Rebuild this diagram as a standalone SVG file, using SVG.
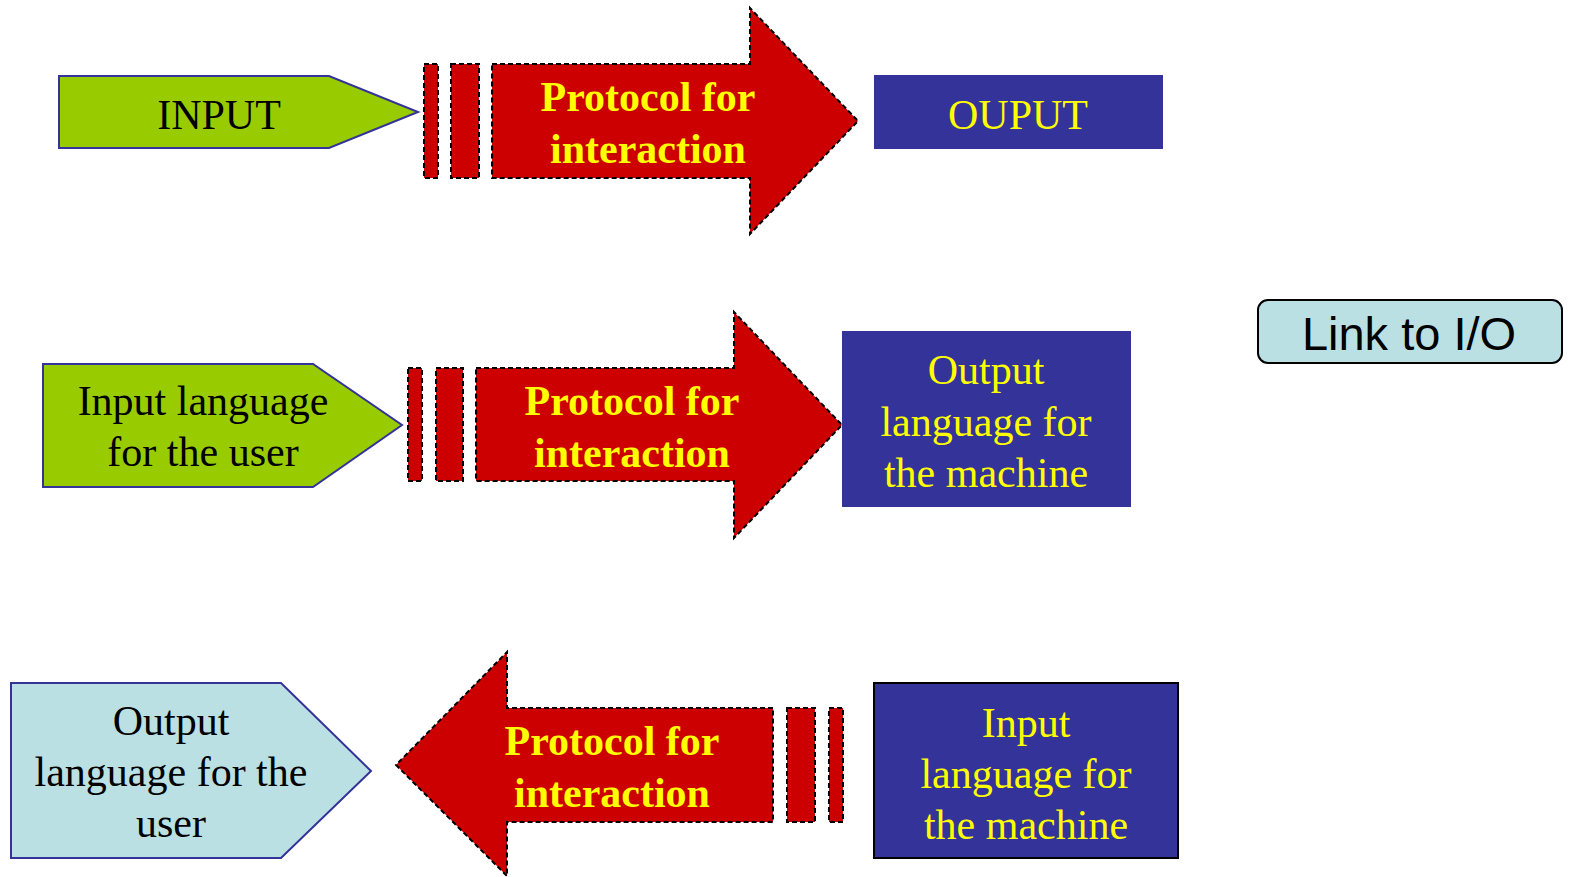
<svg xmlns="http://www.w3.org/2000/svg" width="1569" height="877" viewBox="0 0 1569 877">
<style>
.green{fill:#99CC00;stroke:#333399;stroke-width:2}
.cyan{fill:#BBE0E3;stroke:#333399;stroke-width:2}
.blue{fill:#333399}
.red{fill:#CC0000;stroke:#000;stroke-width:2;stroke-dasharray:5 3}
.t{font-family:"Liberation Serif","Times New Roman",serif;font-size:42px;text-anchor:middle}
.blk{fill:#000}
.yel{fill:#FFFF00}
.b{font-weight:bold}
</style>
<rect width="1569" height="877" fill="#fff"/>
<g id="connectors">
<g id="arrow1">
<rect class="red" x="424" y="64" width="14" height="114"/>
<rect class="red" x="451" y="64" width="28" height="114"/>
<polygon class="red" points="492,64 750,64 750,8 858,121 750,234 750,178 492,178"/>
<text class="t yel b" x="648" y="111">Protocol for</text>
<text class="t yel b" x="648" y="163">interaction</text>
</g>
<g id="arrow2">
<rect class="red" x="408" y="368" width="14" height="113"/>
<rect class="red" x="436" y="368" width="27" height="113"/>
<polygon class="red" points="476,368 734,368 734,312 842,425 734,538 734,481 476,481"/>
<text class="t yel b" x="632" y="415">Protocol for</text>
<text class="t yel b" x="632" y="467">interaction</text>
</g>
<g id="arrow3">
<rect class="red" x="829" y="708" width="14" height="114"/>
<rect class="red" x="787" y="708" width="28" height="114"/>
<polygon class="red" points="773,708 507,708 507,652 396,765 507,876 507,822 773,822"/>
<text class="t yel b" x="612" y="755">Protocol for</text>
<text class="t yel b" x="612" y="807">interaction</text>
</g>
</g>
<g id="input">
<polygon class="green" points="59,76 329,76 418,112 329,148 59,148"/>
<text class="t blk" x="219" y="129">INPUT</text>
</g>
<g id="ouput">
<rect class="blue" x="874" y="75" width="289" height="74"/>
<text class="t yel" x="1018" y="129">OUPUT</text>
</g>
<g id="input-language-user">
<polygon class="green" points="43,364 313,364 402,425 313,487 43,487"/>
<text class="t blk" x="203" y="415">Input language</text>
<text class="t blk" x="203" y="466">for the user</text>
</g>
<g id="output-language-machine">
<rect class="blue" x="842" y="331" width="289" height="176"/>
<text class="t yel" x="986" y="384">Output</text>
<text class="t yel" x="986" y="436">language for</text>
<text class="t yel" x="986" y="487">the machine</text>
</g>
<g id="link-io">
<rect x="1258" y="300" width="304" height="63" rx="10" fill="#BBE0E3" stroke="#000" stroke-width="2"/>
<text x="1409" y="350" font-family="'Liberation Sans',Arial,sans-serif" font-size="47" text-anchor="middle" fill="#000">Link to I/O</text>
</g>
<g id="output-language-user">
<polygon class="cyan" points="11,683 281,683 371,771 281,858 11,858"/>
<text class="t blk" x="171" y="735">Output</text>
<text class="t blk" x="171" y="786">language for the</text>
<text class="t blk" x="171" y="837">user</text>
</g>
<g id="input-language-machine">
<rect x="874" y="683" width="304" height="175" fill="#333399" stroke="#000" stroke-width="2"/>
<text class="t yel" x="1026" y="737">Input</text>
<text class="t yel" x="1026" y="788">language for</text>
<text class="t yel" x="1026" y="839">the machine</text>
</g>
</svg>
